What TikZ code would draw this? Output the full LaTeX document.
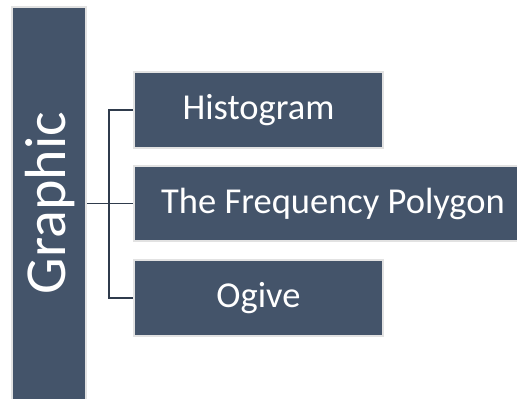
\documentclass[tikz,border=0pt]{standalone}
\usepackage{fontspec}
\setmainfont{Carlito}
\definecolor{slate}{HTML}{44546A}
\definecolor{rim}{HTML}{E2E2E2}
\definecolor{wire}{HTML}{2F3B4C}
\begin{document}
\begin{tikzpicture}[x=1pt,y=1pt,
  card/.style={rectangle,fill=slate,draw=rim,line width=1.6pt,inner sep=0pt,
    text=white,font=\fontsize{36.5}{41}\selectfont},
  wirestyle/.style={draw=wire,line width=1.5pt}]
\useasboundingbox (0,0) rectangle (517,399);
\clip (0,0) rectangle (517,399);
% title bar on the left
\node[card,minimum width=74,minimum height=400] (bar) at (49,192) {};
\node[rotate=90,text=white,font=\fontsize{58}{64}\selectfont] (title) at (50,196) {Graphic};
% the three branches
\node[card,minimum width=249,minimum height=76] (hist) at (258.5,289) {Histogram};
\node[card,minimum width=398,minimum height=75] (poly) at (333,195.5) {The Frequency Polygon};
\node[card,minimum width=249,minimum height=76] (ogive) at (258.5,101) {Ogive};
% bracket connectors
\draw[wirestyle] (hist.west) -- ++(-24,0) coordinate (top) |- (ogive.west);
\draw[wirestyle] (bar.east |- poly.west) -- (poly.west);
\end{tikzpicture}
\end{document}
